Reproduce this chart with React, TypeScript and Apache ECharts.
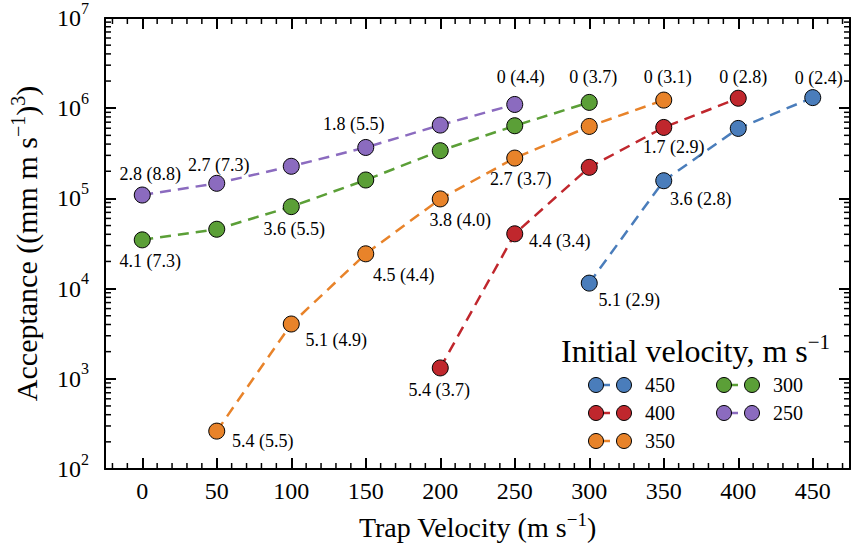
import React, { useEffect, useRef } from "react";
import * as echarts from "echarts";

const FONT = "Liberation Serif";

const SERIES_NAMES = ["450", "400", "350", "300", "250"];
const COLORS = ["#4a7dbb", "#c0272d", "#e8832a", "#5b9f37", "#8b6bbf"];

const X_450 = [300, 350, 400, 450];
const Y_450 = [1.15e4, 1.57e5, 5.97e5, 1.31e6];
const L_450 = ["5.1 (2.9)", "3.6 (2.8)", null, "0 (2.4)"];

const X_400 = [200, 250, 300, 350, 400];
const Y_400 = [1.32e3, 4.05e4, 2.21e5, 6.12e5, 1.29e6];
const L_400 = ["5.4 (3.7)", "4.4 (3.4)", null, "1.7 (2.9)", "0 (2.8)"];

const X_350 = [50, 100, 150, 200, 250, 300, 350];
const Y_350 = [263, 4.05e3, 2.43e4, 9.87e4, 2.8e5, 6.28e5, 1.23e6];
const L_350 = ["5.4 (5.5)", "5.1 (4.9)", "4.5 (4.4)", "3.8 (4.0)", "2.7 (3.7)", null, "0 (3.1)"];

const X_300 = [0, 50, 100, 150, 200, 250, 300];
const Y_300 = [3.47e4, 4.55e4, 8.1e4, 1.6e5, 3.38e5, 6.39e5, 1.16e6];
const L_300 = ["4.1 (7.3)", null, "3.6 (5.5)", null, null, null, "0 (3.7)"];

const X_250 = [0, 50, 100, 150, 200, 250];
const Y_250 = [1.09e5, 1.47e5, 2.27e5, 3.67e5, 6.5e5, 1.1e6];
const L_250 = ["2.8 (8.8)", "2.7 (7.3)", null, "1.8 (5.5)", null, "0 (4.4)"];

// label placement (layout only)
const OFF_450 = [[40, 17], [37, 18], null, [6, -20]];
const OFF_400 = [[-1, 22], [45, 7], null, [10, 20], [5, -21]];
const OFF_350 = [[46, 10], [45, 16], [38, 21], [20, 21], [6, 21], null, [4, -23]];
const OFF_300 = [[8, 21], null, [3, 22], null, null, null, [4, -25]];
const OFF_250 = [[8, -21], [2, -18], null, [-12, -23], null, [6, -27]];

const X_TICKS = [0, 50, 100, 150, 200, 250, 300, 350, 400, 450];
const X_MINOR = [-20, -10, 10, 20, 30, 40, 60, 70, 80, 90, 110, 120, 130, 140, 160, 170, 180, 190,
  210, 220, 230, 240, 260, 270, 280, 290, 310, 320, 330, 340, 360, 370, 380, 390, 410, 420, 430, 440, 460, 470];
const Y_DECADES = [1e2, 1e3, 1e4, 1e5, 1e6];
const Y_MULT = [2, 3, 4, 5, 6, 7, 8, 9];

const TXT = (size: number) => ({ fontFamily: FONT, fontSize: size, color: "#000" });
const SUP = (size: number, pad: number) => ({ ...TXT(size), padding: [0, 0, pad, 0] });

export default function App() {
  const ref = useRef<HTMLDivElement>(null);
  useEffect(() => {
    const chart = echarts.init(ref.current!, null, { renderer: "svg" });
    const xs = [X_450, X_400, X_350, X_300, X_250];
    const ys = [Y_450, Y_400, Y_350, Y_300, Y_250];
    const ls = [L_450, L_400, L_350, L_300, L_250];
    const os = [OFF_450, OFF_400, OFF_350, OFF_300, OFF_250];

    const minorData: number[][] = [];
    X_MINOR.forEach((v) => minorData.push([v, 1000, 0]));
    Y_DECADES.forEach((d) => Y_MULT.forEach((m) => minorData.push([0, d * m, 1])));

    const lineSeries = SERIES_NAMES.map((name, si) => ({
      name,
      type: "line",
      z: 3,
      symbol: "circle",
      symbolSize: 16,
      itemStyle: { color: COLORS[si], borderColor: "#000", borderWidth: 1 },
      lineStyle: { color: COLORS[si], width: 2.5, type: [11, 7] },
      emphasis: { disabled: true },
      label: { ...TXT(18), textBorderWidth: 0 },
      data: xs[si].map((x, i) => ({
        value: [x, ys[si][i]],
        label: ls[si][i]
          ? {
              show: true,
              formatter: ls[si][i] as string,
              position: "inside",
              offset: os[si][i],
              ...TXT(18),
              textBorderWidth: 0,
            }
          : { show: false },
      })),
    }));

    const axisLine = { show: true, onZero: false, lineStyle: { color: "#000", width: 2 } };
    const majorTick = (vals?: number[]) => ({
      show: true, inside: true, length: 11,
      ...(vals ? { customValues: vals } : {}),
      lineStyle: { color: "#000", width: 2 },
    });

    const legendEls: any[] = [];
    legendEls.push({
      type: "text",
      x: 561,
      y: 351,
      style: {
        text: "{a|Initial velocity, m s}{s|\u22121}",
        fontFamily: FONT,
        fontSize: 32,
        verticalAlign: "middle",
        rich: { a: TXT(32), s: SUP(21, 18) },
      },
    });
    SERIES_NAMES.forEach((name, i) => {
      const col = i < 3 ? 0 : 1;
      const row = i < 3 ? i : i - 3;
      const cx = 596 + col * 128;
      const cy = 385 + row * 28;
      legendEls.push({
        type: "line",
        shape: { x1: cx, y1: cy, x2: cx + 14, y2: cy },
        style: { stroke: COLORS[i], lineWidth: 2.5 },
      });
      legendEls.push({
        type: "circle",
        shape: { cx, cy, r: 7.5 },
        style: { fill: COLORS[i], stroke: "#000", lineWidth: 1 },
      });
      legendEls.push({
        type: "circle",
        shape: { cx: cx + 28, cy, r: 7.5 },
        style: { fill: COLORS[i], stroke: "#000", lineWidth: 1 },
      });
      legendEls.push({
        type: "text",
        x: cx + 49,
        y: cy,
        style: { text: name, fontFamily: FONT, fontSize: 20, fill: "#000", verticalAlign: "middle" },
      });
    });

    chart.setOption({
      animation: false,
      backgroundColor: "#fff",
      textStyle: { fontFamily: FONT },
      grid: { left: 101, right: 3, top: 17, bottom: 81, containLabel: false },
      xAxis: [
        {
          type: "value", min: -25, max: 475, position: "bottom",
          axisLine, axisTick: majorTick(X_TICKS), splitLine: { show: false },
          axisLabel: { customValues: X_TICKS, ...TXT(24), margin: 10 },
          name: "{a|Trap Velocity (m s}{s|\u22121}{a|)}",
          nameLocation: "middle",
          nameGap: 41,
          nameTextStyle: { ...TXT(28), rich: { a: TXT(28), s: SUP(19, 16) } },
        },
        {
          type: "value", min: -25, max: 475, position: "top",
          axisLine, axisTick: majorTick(X_TICKS), splitLine: { show: false },
          axisLabel: { show: false },
        },
      ],
      yAxis: [
        {
          type: "log", logBase: 10, min: 100, max: 1e7, position: "left",
          axisLine, axisTick: majorTick(), splitLine: { show: false }, minorTick: { show: false },
          axisLabel: {
            margin: 16,
            ...TXT(24),
            formatter: (v: number) => `{b|10}{s|${Math.round(Math.log10(v))}}`,
            rich: { b: TXT(24), s: SUP(16, 20) },
          },
          name: "{a|Acceptance ((mm m s}{s|\u22121}{a|)}{s|3}{a|)}",
          nameLocation: "middle",
          nameRotate: 90,
          nameGap: 61,
          nameTextStyle: { ...TXT(30), rich: { a: TXT(30), s: SUP(20, 16) } },
        },
        {
          type: "log", logBase: 10, min: 100, max: 1e7, position: "right",
          axisLine, axisTick: majorTick(), splitLine: { show: false },
          axisLabel: { show: false },
        },
      ],
      series: [
        {
          type: "custom",
          silent: true,
          clip: false,
          z: 1,
          xAxisIndex: 0,
          yAxisIndex: 0,
          encode: { x: 0, y: 1 },
          data: minorData,
          renderItem: (params: any, api: any) => {
            const cs = params.coordSys;
            const kind = api.value(2);
            const p = api.coord([api.value(0), api.value(1)]);
            const style = { stroke: "#000", lineWidth: 1.5 };
            if (kind === 0) {
              return {
                type: "group",
                children: [
                  { type: "line", shape: { x1: p[0], y1: cs.y + cs.height, x2: p[0], y2: cs.y + cs.height - 6 }, style },
                  { type: "line", shape: { x1: p[0], y1: cs.y, x2: p[0], y2: cs.y + 6 }, style },
                ],
              };
            }
            return {
              type: "group",
              children: [
                { type: "line", shape: { x1: cs.x, y1: p[1], x2: cs.x + 6, y2: p[1] }, style },
                { type: "line", shape: { x1: cs.x + cs.width, y1: p[1], x2: cs.x + cs.width - 6, y2: p[1] }, style },
              ],
            };
          },
        },
        ...lineSeries,
      ],
      graphic: { elements: legendEls },
    } as any);
    return () => chart.dispose();
  }, []);
  return (
    <div
      ref={ref}
      style={{ position: "absolute", left: 0, top: 0, width: 853, height: 550, background: "#fff" }}
    />
  );
}
